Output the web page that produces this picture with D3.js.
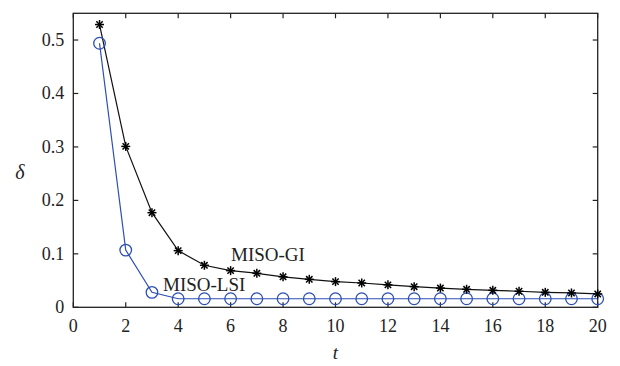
<!DOCTYPE html>
<html><head><meta charset="utf-8">
<script src="https://cdn.jsdelivr.net/npm/d3@7"></script>
<style>body{margin:0;background:#fff}svg{display:block}svg text{font-family:"Liberation Serif","Times New Roman",serif}</style>
</head><body>
<svg id="c" width="620" height="366"></svg>
<script>
const t = d3.range(1, 21);
const gi = [0.529,0.301,0.177,0.106,0.0786,0.0686,0.0636,0.057,0.0524,0.048,0.0455,0.042,0.0386,0.036,0.0337,0.0318,0.030,0.028,0.0268,0.025];
const lsi = [0.494,0.107,0.028,0.016,0.016,0.016,0.016,0.016,0.016,0.016,0.016,0.016,0.016,0.016,0.016,0.016,0.016,0.016,0.016,0.016];
const xTicks = [0,2,4,6,8,10,12,14,16,18,20];
const yTicks = [0,0.1,0.2,0.3,0.4,0.5];

const svg = d3.select("#c");
const L = 73.3, R = 597.7, T = 13.3, B = 307.3;
const x = d3.scaleLinear().domain([0,20]).range([L,R]);
const y = d3.scaleLinear().domain([0,0.55]).range([B,T]);
const fs = 18;

svg.append("rect").attr("x",L).attr("y",T).attr("width",R-L).attr("height",B-T)
  .attr("fill","none").attr("stroke","#222").attr("stroke-width",1.3);

const tl = 5;
const g = svg.append("g").attr("stroke","#222").attr("stroke-width",1.2);
xTicks.forEach(v => {
  g.append("line").attr("x1",x(v)).attr("x2",x(v)).attr("y1",B).attr("y2",B-tl);
  g.append("line").attr("x1",x(v)).attr("x2",x(v)).attr("y1",T).attr("y2",T+tl);
});
yTicks.forEach(v => {
  g.append("line").attr("x1",L).attr("x2",L+tl).attr("y1",y(v)).attr("y2",y(v));
  g.append("line").attr("x1",R).attr("x2",R-tl).attr("y1",y(v)).attr("y2",y(v));
});
svg.selectAll(".xl").data(xTicks).enter().append("text")
  .attr("x",d=>x(d)).attr("y",B+25).attr("text-anchor","middle")
  .style("font-size",fs+"px").attr("fill","#222").text(d=>d);
svg.selectAll(".yl").data(yTicks).enter().append("text")
  .attr("x",L-9).attr("y",d=>y(d)+6).attr("text-anchor","end")
  .style("font-size",fs+"px").attr("fill","#222").text(d=>d===0?"0":d.toFixed(1));

svg.append("text").attr("x",x(10)).attr("y",359).attr("text-anchor","middle")
  .style("font-size","19px").style("font-style","italic").attr("fill","#222").text("t");
svg.append("text").attr("x",20).attr("y",179).attr("text-anchor","middle")
  .style("font-size","20px").style("font-style","italic").attr("fill","#222").text("δ");

const line = d3.line().x((d,i)=>x(t[i])).y(d=>y(d));
const blue = "#2c4fb3";
svg.append("path").datum(lsi).attr("d",line).attr("fill","none").attr("stroke",blue).attr("stroke-width",1.2);
svg.append("path").datum(gi).attr("d",line).attr("fill","none").attr("stroke","#111").attr("stroke-width",1.2);

svg.selectAll(".c").data(lsi).enter().append("circle")
  .attr("cx",(d,i)=>x(t[i])).attr("cy",d=>y(d)).attr("r",5.8)
  .attr("fill","none").attr("stroke",blue).attr("stroke-width",1.3);

const s = 4.5;
gi.forEach((d,i) => {
  const cx = x(t[i]), cy = y(d);
  const gg = svg.append("g").attr("stroke","#000").attr("stroke-width",1.5);
  [0,45,90,135].forEach(a => {
    const r = a*Math.PI/180;
    gg.append("line").attr("x1",cx-s*Math.cos(r)).attr("y1",cy-s*Math.sin(r))
      .attr("x2",cx+s*Math.cos(r)).attr("y2",cy+s*Math.sin(r));
  });
});

svg.append("text").attr("x",231).attr("y",261).style("font-size","19px").attr("fill","#222").text("MISO-GI");
svg.append("text").attr("x",163).attr("y",291).style("font-size","19px").attr("fill","#222").text("MISO-LSI");
</script>
</body></html>
